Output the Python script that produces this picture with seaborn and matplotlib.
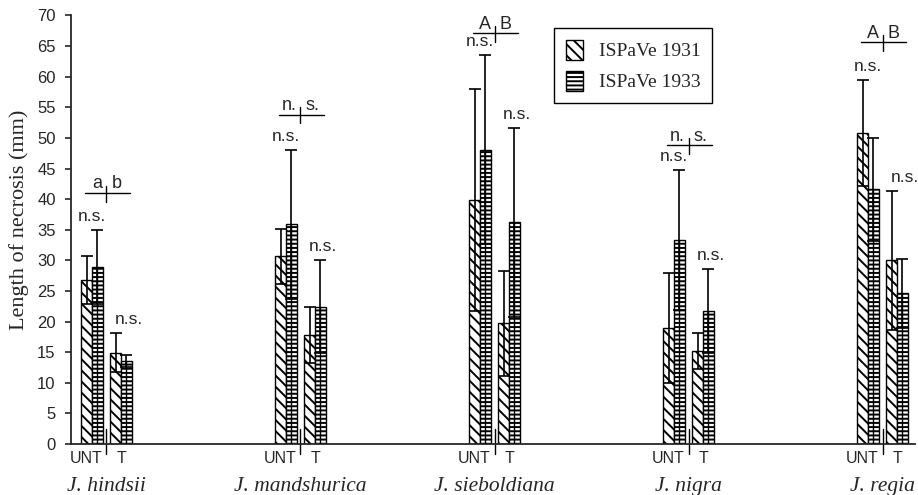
import numpy as np
import pandas as pd
import matplotlib
matplotlib.use("Agg")
import matplotlib.pyplot as plt
import seaborn as sns
from matplotlib.patches import Patch

# values (mean and SD, mm)
species = ["J. hindsii", "J. mandshurica", "J. sieboldiana", "J. nigra", "J. regia"]
treatments = ["UNT", "T"]
mean_1931 = [26.8, 14.9, 30.7, 17.8, 39.9, 19.7, 18.9, 15.2, 50.8, 30.0]
sd_1931 = [3.9, 3.2, 4.5, 4.6, 18.1, 8.6, 9.0, 3.0, 8.6, 11.4]
mean_1933 = [28.9, 13.5, 35.9, 22.4, 48.1, 36.2, 33.3, 21.7, 41.6, 24.6]
sd_1933 = [6.0, 1.0, 12.2, 7.6, 15.5, 15.5, 11.4, 6.9, 8.4, 5.7]
years = ["ISPaVe 1931", "ISPaVe 1933"]
# letters over each species (UNT vs T comparison) and their height
bracket_labels = [("a", "b"), ("n.", "s."), ("A", "B"), ("n.", "s."), ("A", "B")]
bracket_y = [41.0, 53.8, 67.1, 48.8, 65.6]

sns.set_style("ticks")
plt.rcParams["font.family"] = ["Liberation Sans", "DejaVu Sans"]
plt.rcParams["hatch.linewidth"] = 1.4
plt.rcParams["hatch.color"] = "black"

gap = 0.15   # UNT -> T distance
bw = 0.055   # single bar width
pos = np.array([i + j * gap for i in range(len(species)) for j in range(len(treatments))])

fig = plt.figure(figsize=(9.18, 4.95), dpi=100)
ax = fig.add_axes([0.0773, 0.103, 0.9194, 0.8657])

hatches = ["\\\\\\", "----"]
tops = np.zeros(len(pos))
for k, (means, sds) in enumerate([(mean_1931, sd_1931), (mean_1933, sd_1933)]):
    shift = (k - 0.5) * bw
    d = pd.DataFrame({"pos": pos + shift, "length": means})
    sns.barplot(data=d, x="pos", y="length", native_scale=True, width=bw / gap,
                color="white", saturation=1, edgecolor="black", linewidth=1.0,
                errorbar=None, ax=ax)
    bars = ax.containers[-1]
    xs = []
    for b in bars:
        b.set_hatch(hatches[k])
        xs.append(b.get_x() + b.get_width() / 2)
    xs = np.array(xs)
    hs = np.array([b.get_height() for b in bars])
    if k == 1:
        ax.vlines(xs, 0, hs, color="black", lw=1.0, zorder=3)
    ax.errorbar(xs, hs, yerr=sds, fmt="none", ecolor="black", elinewidth=1.2,
                capsize=4, capthick=1.2, zorder=4)
    tops = np.maximum(tops, hs + np.array(sds))

ax.set_xlim(-0.108, 4.242)
ax.set_ylim(0, 70)
ax.set_yticks(np.arange(0, 71, 5))
ax.set_xticks([])
ax.set_xlabel("")
ax.set_ylabel("Length of necrosis (mm)", family=["Liberation Serif"], fontsize=16)
ax.yaxis.set_label_coords(-0.05, 0.523)
ax.tick_params(axis="y", labelsize=12, length=4, width=1.2, pad=7, direction="out")
sns.despine(ax=ax)
for s in ["left", "bottom"]:
    ax.spines[s].set_linewidth(1.3)

trans = ax.get_xaxis_transform()
for i, name in enumerate(species):
    unt, t = pos[2 * i], pos[2 * i + 1]
    mid = (unt + t) / 2
    # divider tick and UNT / T labels under the axis
    ax.plot([mid, mid], [2.5, -1.7], color="black", lw=1.0, clip_on=False)
    ax.text(mid - 0.02, -0.033, "UNT", transform=trans, ha="right", va="center", fontsize=11.5)
    ax.text(t, -0.033, "T", transform=trans, ha="center", va="center", fontsize=11.5)
    ax.text(mid, -0.1, name, transform=trans, ha="center", va="center",
            family=["Liberation Serif"], style="italic", fontsize=15.5)
    # n.s. over each pair
    ax.text(unt, tops[2 * i] + 2.2, "n.s.", ha="center", va="center", fontsize=12.5)
    ax.text(t + 0.04, tops[2 * i + 1] + 2.2, "n.s.", ha="center", va="center", fontsize=12.5)
    # UNT vs T bracket
    yb = bracket_y[i]
    ax.plot([mid - 0.113, mid + 0.119], [yb, yb], color="black", lw=1.0, clip_on=False)
    ax.plot([mid, mid], [yb - 1.4, yb + 1.2], color="black", lw=1.0, clip_on=False)
    left, right = bracket_labels[i]
    ax.text(mid - 0.02, yb + 0.1, left, ha="right", va="bottom", fontsize=13)
    ax.text(mid + 0.025, yb + 0.1, right, ha="left", va="bottom", fontsize=13)

handles = [Patch(facecolor="white", edgecolor="black", hatch=h, label=y)
           for h, y in zip(hatches, years)]
leg = ax.legend(handles=handles, loc="upper left", bbox_to_anchor=(0.6035, 0.9434),
                bbox_transform=fig.transFigure, borderaxespad=0, fancybox=False,
                edgecolor="black", framealpha=1, handlelength=0.9, handleheight=1.2,
                labelspacing=0.55, borderpad=0.6, handletextpad=0.8,
                prop={"family": "Liberation Serif", "size": 14})
leg.get_frame().set_linewidth(1.0)

fig.savefig("out.png", dpi=100)
